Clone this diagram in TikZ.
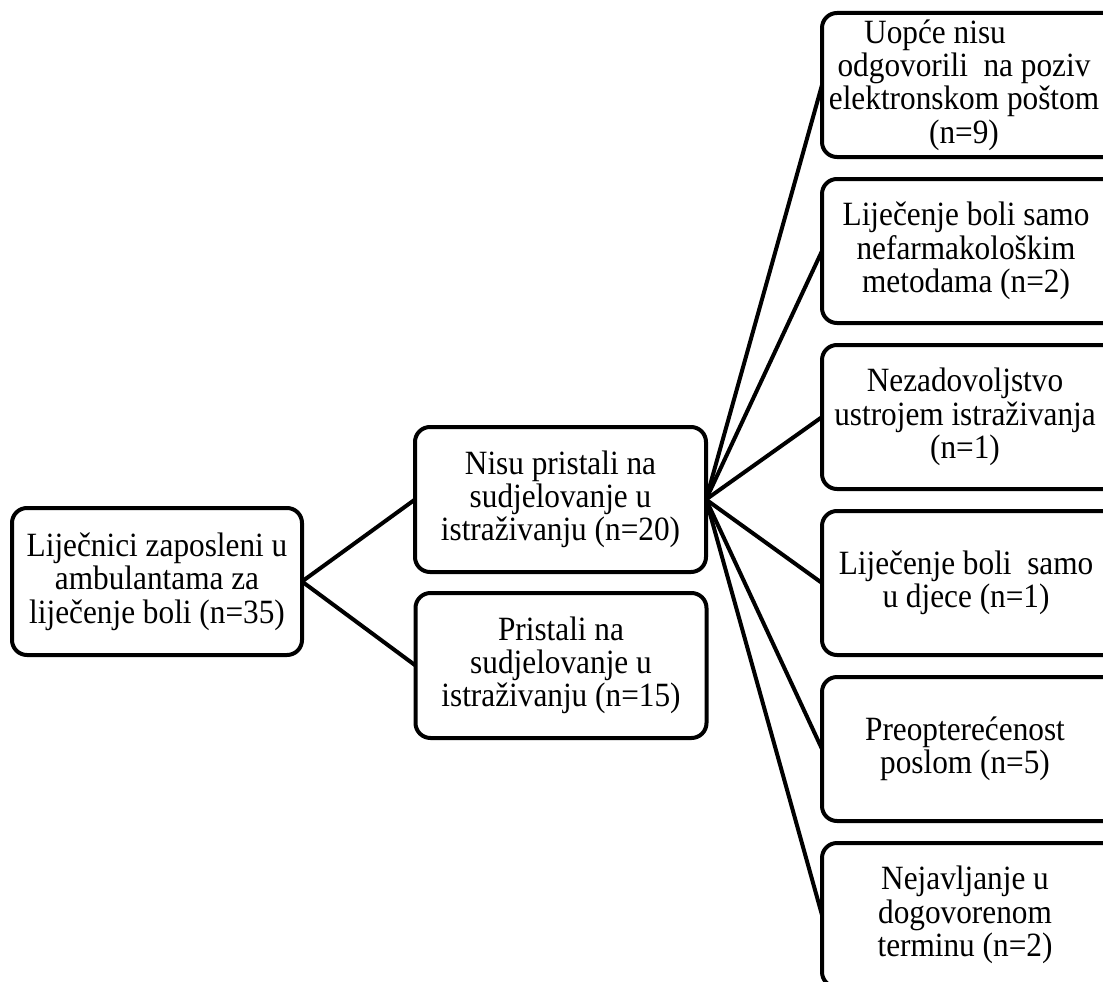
\documentclass[tikz,border=0pt]{standalone}
\usepackage{fontspec}
\setmainfont[FakeStretch=0.92]{Liberation Serif}
\tikzset{
  box/.style={draw=black, line width=4pt, rounded corners=15pt, align=center,
    inner sep=0pt, outer sep=0pt, font=\fontsize{34}{33.3}\selectfont},
  lbox/.style={box, minimum width=290pt, minimum height=147pt},
  mbox/.style={box, minimum width=291pt, minimum height=145pt},
  rbox/.style={box, minimum width=306pt, minimum height=144pt},
  rtext/.style={align=center, inner sep=0pt, font=\fontsize{34}{33.3}\selectfont},
  link/.style={line width=4pt}
}
\begin{document}
\begin{tikzpicture}[x=1pt,y=-1pt]
\useasboundingbox (0,0) rectangle (1103,982);
\begin{scope}
\clip (0,0) rectangle (1103,982);
\node[lbox] (a) at (157,581.5) {Liječnici zaposleni u\\ambulantama za\\liječenje boli (n=35)};
\node[mbox] (b) at (560.5,499.5) {Nisu pristali na\\sudjelovanje u\\istraživanju (n=20)};
\node[mbox] (c) at (561,665.5) {Pristali na\\sudjelovanje u\\istraživanju (n=15)};
\foreach \n/\y in {r1/85,r2/251,r3/417,r4/583,r5/749,r6/915} {\node[rbox] (\n) at (975,\y) {};}
\node[rtext] (t1) at (964,85) {Uopće nisu\hspace*{58pt}\\odgovorili\ \ na poziv\\elektronskom poštom\\(n=9)};
\node[rtext] (t2) at (966,251) {Liječenje boli samo\\nefarmakološkim\\metodama (n=2)};
\node[rtext] (t3) at (965,417) {Nezadovoljstvo\\ustrojem istraživanja\\(n=1)};
\node[rtext] (t4) at (966,583) {Liječenje boli\ \ samo\\u djece (n=1)};
\node[rtext] (t5) at (965,749) {Preopterećenost\\poslom (n=5)};
\node[rtext] (t6) at (965,915) {Nejavljanje u\\dogovorenom\\terminu (n=2)};
\draw[link] (a.east) -- (b.west);
\draw[link] (a.east) -- (c.west);
\foreach \r in {r1,r2,r3,r4,r5,r6} {\draw[link] (b.east) -- (\r.west);}
\end{scope}
\end{tikzpicture}
\end{document}
